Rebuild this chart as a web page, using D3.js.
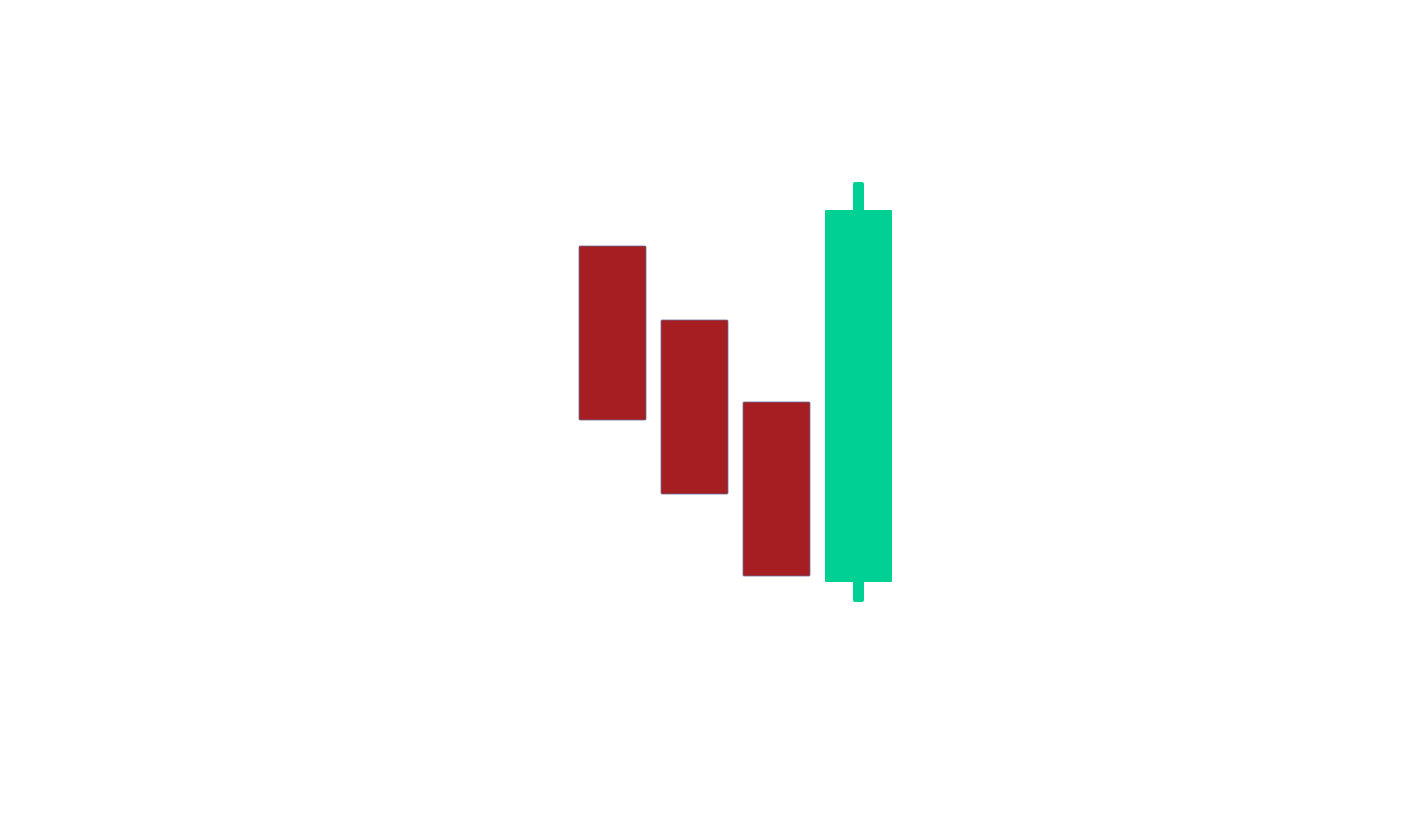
<!DOCTYPE html>
<html lang="en">
<head>
    <meta charset="UTF-8">
    <title>Candles</title>
    <script src="https://cdn.jsdelivr.net/npm/d3@7"></script>
    <style>
        body { margin: 0; background: #fff; }
    </style>
</head>
<body>
<script>
    // four candles, prices
    var days = ["d1", "d2", "d3", "d4"];
    var opens = [135.6, 128.2, 120.0, 102.0];
    var closes = [118.2, 110.8, 102.6, 139.2];
    var highs = [135.6, 128.2, 120.0, 142.0];
    var lows = [118.2, 110.8, 102.6, 100.0];

    var w = 1408, h = 827;

    var svg = d3.select("body").append("svg")
        .attr("width", w)
        .attr("height", h);

    var x = d3.scaleBand()
        .domain(days)
        .range([564, 907])
        .paddingInner(0.183)
        .paddingOuter(0.183);

    var y = d3.scaleLinear()
        .domain([100, 142])
        .range([602, 182]);

    var candles = days.map(function (d, i) {
        return {day: d, open: opens[i], close: closes[i], high: highs[i], low: lows[i]};
    });

    function color(d) {
        return d.close >= d.open ? "#00d094" : "#a51e21";
    }

    var g = svg.selectAll("g.candle")
        .data(candles)
        .enter()
        .append("g")
        .attr("class", "candle");

    // wicks (only drawn where high/low stick out)
    g.append("rect")
        .attr("x", function (d) { return x(d.day) + x.bandwidth() / 2 - 5.5; })
        .attr("y", function (d) { return y(d.high); })
        .attr("width", 11)
        .attr("height", function (d) { return y(d.low) - y(d.high); })
        .attr("rx", 2)
        .attr("fill", color);

    // bodies
    g.append("rect")
        .attr("x", function (d) { return x(d.day); })
        .attr("y", function (d) { return y(Math.max(d.open, d.close)); })
        .attr("width", x.bandwidth())
        .attr("height", function (d) { return Math.abs(y(d.open) - y(d.close)); })
        .attr("rx", 1)
        .attr("fill", color)
        .attr("stroke", function (d) { return d.close >= d.open ? "none" : "#6a6c98"; })
        .attr("stroke-width", 0.8);
</script>
</body>
</html>
